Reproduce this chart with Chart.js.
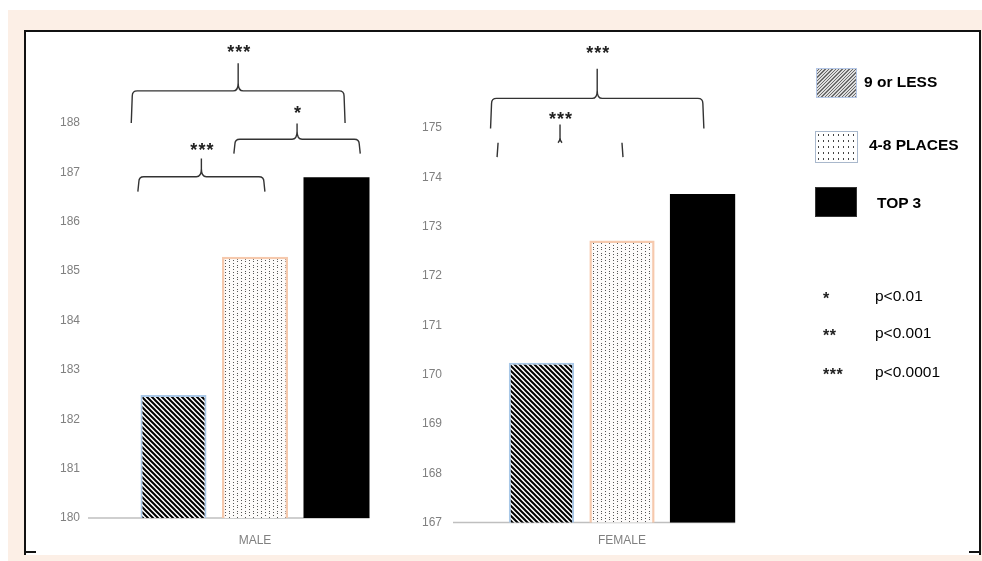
<!DOCTYPE html>
<html>
<head>
<meta charset="utf-8">
<script src="https://cdn.jsdelivr.net/npm/chart.js"></script>
<style>
body{margin:0;width:982px;height:561px;background:#fff;position:relative;overflow:hidden;font-family:"Liberation Sans",Arial,sans-serif}
#peach{position:absolute;left:8px;top:10px;right:0;bottom:0;background:#fcefe6}
#frame{position:absolute;left:24px;top:30px;width:953px;height:523px;background:#fff;border:2px solid #111;border-bottom:none}
.corner{position:absolute;top:551px;width:12px;height:2px;background:#111}
canvas{position:absolute;top:30px}
#male{left:20px}
#female{left:400px}
.sw{position:absolute;box-sizing:border-box}
.lab{position:absolute;font-weight:bold;font-size:15.5px;line-height:18px;color:#000;white-space:nowrap}
.pv{position:absolute;font-size:15.5px;line-height:18px;color:#000;white-space:nowrap}
.st{position:absolute;font-size:16px;font-weight:bold;line-height:18px;color:#222;letter-spacing:0.5px}
</style>
</head>
<body>
<div id="peach"></div>
<div id="frame"></div>
<div class="corner" style="left:24px"></div>
<div class="corner" style="left:969px"></div>
<canvas id="male" width="420" height="530"></canvas>
<canvas id="female" width="420" height="530"></canvas>

<div class="sw" style="left:816px;top:68px;width:41px;height:30px;border:1px solid #b4c7e7;background:repeating-linear-gradient(-45deg,#6a6a6a 0 1px,#dcdcdc 1px 2.4px)"></div>
<div class="lab" style="left:864px;top:73px">9 or LESS</div>
<div class="sw" style="left:815px;top:131px;width:43px;height:32px;border:1px solid #a9b8cc;background-color:#fff;background-image:radial-gradient(#444 0.7px,transparent 1px);background-size:5px 6px"></div>
<div class="lab" style="left:869px;top:136px">4-8 PLACES</div>
<div class="sw" style="left:815px;top:187px;width:42px;height:30px;border:1px solid #333;background:#000"></div>
<div class="lab" style="left:877px;top:194px">TOP 3</div>

<div class="st" style="left:823px;top:290px">*</div>
<div class="pv" style="left:875px;top:287px">p&lt;0.01</div>
<div class="st" style="left:823px;top:327px">**</div>
<div class="pv" style="left:875px;top:324px">p&lt;0.001</div>
<div class="st" style="left:823px;top:366px">***</div>
<div class="pv" style="left:875px;top:363px">p&lt;0.0001</div>

<script>
const groups = ['9 or LESS', '4-8 PLACES', 'TOP 3'];
const maleValues = [182.49, 185.29, 186.90];
const femaleValues = [170.24, 172.72, 173.66];
const maleTicks = [180, 181, 182, 183, 184, 185, 186, 187, 188];
const femaleTicks = [167, 168, 169, 170, 171, 172, 173, 174, 175];

// significance braces: bar index + offset (in bar widths), levels in axis units
const maleBrackets = [
  {from: 0, fromOff: -0.64, to: 2, toOff: 0.13, bar: 188.65, end: 188.0, tip: 189.21, text: 189.51, label: '***'},
  {from: 0, fromOff: -0.54, to: 1, toOff: 0.15, bar: 186.91, end: 186.61, tip: 187.28, text: 187.54, label: '***'},
  {from: 1, fromOff: -0.32, to: 2, toOff: 0.36, bar: 187.67, end: 187.38, tip: 187.99, text: 188.28, label: '*'}
];
const femaleBrackets = [
  {from: 0, fromOff: -0.78, to: 2, toOff: 0.02, bar: 175.60, end: 174.99, tip: 176.20, text: 176.61, label: '***'},
  {from: 0, fromOff: -0.68, to: 1, toOff: 0.015, bar: 174.70, end: 174.41, tip: 175.07, text: 175.26, label: '***', partial: true}
];

function stripes() {
  const c = document.createElement('canvas');
  c.width = 5; c.height = 5;
  const g = c.getContext('2d');
  g.fillStyle = '#fff'; g.fillRect(0, 0, 5, 5);
  g.strokeStyle = '#000'; g.lineWidth = 2;
  g.beginPath();
  g.moveTo(-1, -1); g.lineTo(6, 6);
  g.moveTo(-1, 4); g.lineTo(1, 6);
  g.moveTo(4, -1); g.lineTo(6, 1);
  g.stroke();
  return g.createPattern(c, 'repeat');
}

function dots() {
  const c = document.createElement('canvas');
  c.width = 8; c.height = 6;
  const g = c.getContext('2d');
  g.fillStyle = '#fdfbfa'; g.fillRect(0, 0, 8, 6);
  g.fillStyle = '#555';
  g.fillRect(1, 1, 1, 1); g.fillRect(1, 3, 1, 1);
  g.fillRect(5, 2, 1, 1); g.fillRect(5, 5, 1, 1);
  return g.createPattern(c, 'repeat');
}

const fills = [stripes(), dots(), '#000'];
const borders = ['#a9c8e8', '#f6c9ad', '#111'];
const borderW = [2, 2.5, 0];

function brace(ctx, xl, xr, yh, yb, yt, partial) {
  const xm = (xl + xr) / 2, r = 5;
  ctx.beginPath();
  if (partial) {
    ctx.moveTo(xl, yb); ctx.lineTo(xl + 1, yh);
    ctx.moveTo(xr, yb); ctx.lineTo(xr - 1, yh);
    ctx.moveTo(xm, yt); ctx.lineTo(xm, yh - 4);
    ctx.moveTo(xm - 2, yh); ctx.quadraticCurveTo(xm, yh - 2, xm, yh - 5);
    ctx.quadraticCurveTo(xm, yh - 2, xm + 2, yh);
  } else {
    ctx.moveTo(xl, yb);
    ctx.lineTo(xl + 1, yh + r);
    ctx.quadraticCurveTo(xl + 1, yh, xl + 1 + r, yh);
    ctx.lineTo(xm - r, yh);
    ctx.quadraticCurveTo(xm, yh, xm, yh - 8);
    ctx.lineTo(xm, yt);
    ctx.moveTo(xm, yh - 8);
    ctx.quadraticCurveTo(xm, yh, xm + r, yh);
    ctx.lineTo(xr - 1 - r, yh);
    ctx.quadraticCurveTo(xr - 1, yh, xr - 1, yh + r);
    ctx.lineTo(xr, yb);
  }
  ctx.stroke();
}

const bracketPlugin = {
  id: 'brackets',
  beforeDatasetsDraw(chart) {
    const ctx = chart.ctx, y = chart.scales.y;
    const last = chart.getDatasetMeta(chart.data.datasets.length - 1).data[0];
    ctx.save();
    ctx.strokeStyle = '#bfbfbf';
    ctx.lineWidth = 1.5;
    ctx.beginPath();
    ctx.moveTo(chart.chartArea.left, y.bottom);
    ctx.lineTo(last.x + last.width / 2, y.bottom);
    ctx.stroke();
    ctx.restore();
  },
  afterDraw(chart, args, opts) {
    const ctx = chart.ctx, y = chart.scales.y;
    ctx.save();
    ctx.strokeStyle = '#333';
    ctx.lineWidth = 1.4;
    ctx.fillStyle = '#222';
    ctx.font = 'bold 18px "Liberation Sans", Arial';
    ctx.textAlign = 'center';
    ctx.textBaseline = 'alphabetic';
    ctx.letterSpacing = '1px';
    (opts.items || []).forEach(b => {
      const a = chart.getDatasetMeta(b.from).data[0];
      const c = chart.getDatasetMeta(b.to).data[0];
      const xl = a.x + b.fromOff * a.width;
      const xr = c.x + b.toOff * c.width;
      brace(ctx, xl, xr, y.getPixelForValue(b.bar), y.getPixelForValue(b.end), y.getPixelForValue(b.tip), b.partial);
      ctx.fillText(b.label, (xl + xr) / 2 + 1, y.getPixelForValue(b.text) + 10);
    });
    ctx.restore();
  }
};

const tickFont = {family: '"Liberation Sans", Arial', size: 12};

function makeChart(id, cat, values, ticks, items, lay) {
  return new Chart(document.getElementById(id), {
    type: 'bar',
    data: {
      labels: [cat],
      datasets: groups.map((g, i) => ({
        label: g,
        data: [values[i]],
        backgroundColor: fills[i],
        borderColor: borders[i],
        borderWidth: borderW[i],
        borderSkipped: false,
        categoryPercentage: lay.cat,
        barPercentage: lay.bar
      }))
    },
    options: {
      responsive: false,
      animation: false,
      devicePixelRatio: 1,
      layout: {padding: {top: lay.top, left: lay.left, right: lay.right, bottom: 0}},
      plugins: {
        legend: {display: false},
        tooltip: {enabled: false},
        brackets: {items: items}
      },
      scales: {
        x: {
          grid: {display: false, drawTicks: false},
          border: {display: false},
          ticks: {color: '#808080', font: tickFont, padding: lay.xPad},
          afterFit(s) { s.height = lay.xH; }
        },
        y: {
          min: ticks[0],
          max: ticks[ticks.length - 1],
          grid: {display: false, drawTicks: false},
          border: {display: false},
          ticks: {stepSize: 1, color: '#808080', font: tickFont, padding: lay.yPad},
          afterFit(s) { s.width = lay.yW; }
        }
      }
    },
    plugins: [bracketPlugin]
  });
}

makeChart('male', 'MALE', maleValues, maleTicks, maleBrackets,
  {top: 93, left: 8, right: 18, yW: 60, yPad: 8, xH: 42, xPad: 15, cat: 0.732, bar: 0.81});
makeChart('female', 'FEMALE', femaleValues, femaleTicks, femaleBrackets,
  {top: 98, left: 0, right: 29, yW: 53, yPad: 11, xH: 37.5, xPad: 10.5, cat: 0.715, bar: 0.81});
</script>
</body>
</html>
